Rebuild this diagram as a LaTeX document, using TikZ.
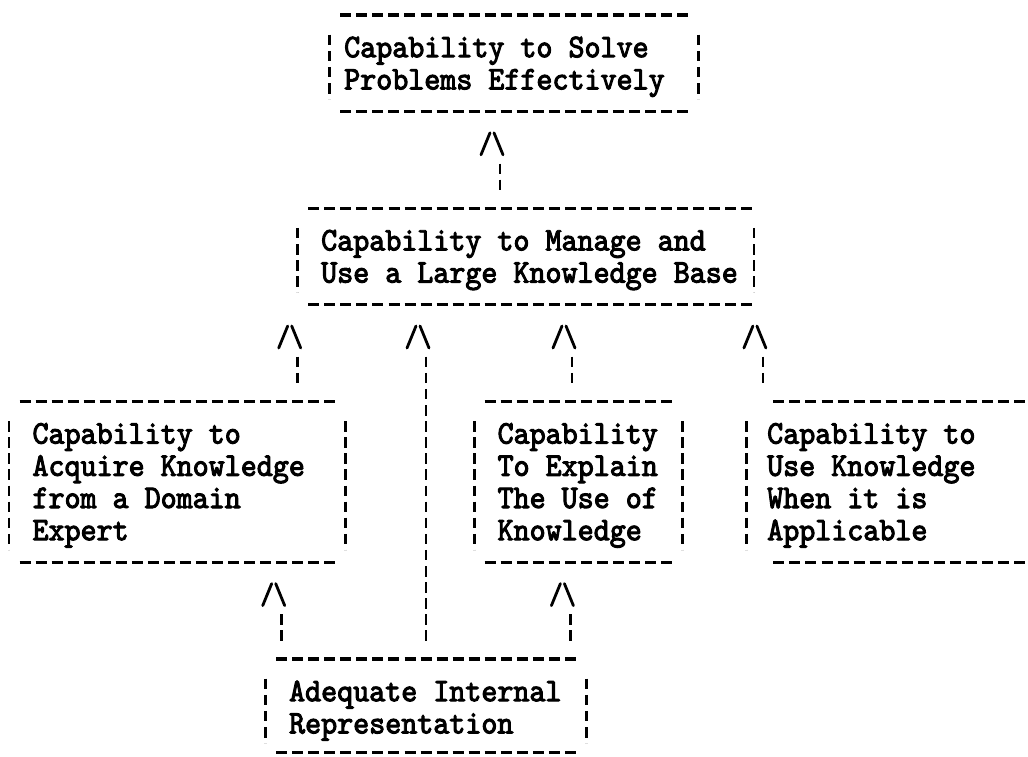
\documentclass[tikz,border=0pt]{standalone}
\usetikzlibrary{fit,calc}

% typewriter face: Latin Modern Mono, slightly narrowed and darkened
\font\typer="[lmmono10-regular.otf]:embolden=3;extend=0.925" at 33pt
% rows 32.2pt apart
\newcommand\typeface{\typer\setbox\strutbox\hbox{\vrule height22.5pt depth9.7pt width0pt}}

% one text block, lines set flush left, baseline on the first line
\newcommand\lines[1]{\begin{tabular}[t]{@{}l@{}}#1\end{tabular}}

\tikzset{
  txt/.style={inner sep=0pt, anchor=base west, font=\typeface},
  frame/.style={inner sep=0pt, outer sep=0pt, draw=none},
  hdash/.style={line width=3.2pt, dash pattern=on 11pt off 5.04pt},
  vbar/.style={line width=2.8pt, dash pattern=on 10.5pt off 5.6pt},
  stem/.style={vbar, shorten <=51.9pt, shorten >=18.1pt},
  caret/.style={line width=2.8pt, line cap=round},
}

% typed box: name, left bar x, right bar x, top rule y, bottom rule y,
% rule start x, rule end x, number of text rows
\newcommand\typedbox[8]{%
  \node[frame, fit={(#2,#4) (#3,#5)}] (#1) {};
  \draw[hdash] (#6,#4) -- (#7,#4);
  \draw[hdash] (#6,#5) -- (#7,#5);
  \draw[vbar] (#2,{#4+19.7}) -- (#2,{#4+19.7+32.2*#8});
  \draw[vbar] (#3,{#4+19.7}) -- (#3,{#4+19.7+32.2*#8});
}

% "/\" head centred on the given point
\newcommand\caretat[1]{\draw[caret] (#1) ++(-11,11) -- ++(9,-22) ++(4,0) -- ++(9,22);}

\begin{document}
\begin{tikzpicture}[x=1pt,y=-1pt]
\path[fill=white] (0,0) rectangle (1028,756);
\useasboundingbox (0,0) rectangle (1028,756);

% boxes
\typedbox{solve}{329.8}{698.7}{15}{111.6}{340.3}{688.2}{2}
\node[txt] (solve-t) at (344,57.2) {\lines{Capability to Solve\\Problems Effectively}};

\typedbox{manage}{297.7}{754}{208.2}{304.8}{308.3}{757}{2}
\node[txt] (manage-t) at (321,250.4) {\lines{Capability to Manage and\\Use a Large Knowledge Base}};

\typedbox{acquire}{9}{345.8}{401.4}{562.4}{19.5}{335.3}{4}
\node[txt] (acquire-t) at (32.3,443.6) {\lines{Capability to\\Acquire Knowledge\\from a Domain\\Expert}};

\typedbox{explain}{474.2}{682.7}{401.4}{562.4}{484.7}{672.2}{4}
\node[txt] (explain-t) at (497.4,443.6) {\lines{Capability\\To Explain\\The Use of\\Knowledge}};

% right-hand box runs off the edge: left bar only
\node[frame, fit={(746.8,401.4) (1028,562.4)}] (use) {};
\draw[hdash] (773.4,401.4) -- (1028,401.4);
\draw[hdash] (773.4,562.4) -- (1028,562.4);
\draw[vbar] (746.8,421.1) -- (746.8,549.9);
\node[txt] (use-t) at (767,443.6) {\lines{Capability to\\Use Knowledge\\When it is\\Applicable}};

\typedbox{inrep}{265.6}{586.4}{659}{752.5}{276.2}{575.9}{2}
\node[txt] (inrep-t) at (288.9,701.2) {\lines{Adequate Internal\\Representation}};

% stem positions
\coordinate (x1) at (500,0);
\coordinate (x2) at (297.7,0);
\coordinate (x3) at (426,0);
\coordinate (x4) at (572,0);
\coordinate (x5) at (762.9,0);
\coordinate (x6) at (281.7,0);
\coordinate (x7) at (570.4,0);

% connectors, drawn from the supported box down to its support
\draw[stem] (solve.south -| x1) -- (manage.north -| x1);
\caretat{$(solve.south -| x1)+(-8,32.2)$}

\draw[stem] (manage.south -| x2) -- (acquire.north -| x2);
\caretat{$(manage.south -| x2)+(-8,32.2)$}

\draw[stem] (manage.south -| x3) -- (inrep.north -| x3);
\caretat{$(manage.south -| x3)+(-8,32.2)$}

\draw[stem] (manage.south -| x4) -- (explain.north -| x4);
\caretat{$(manage.south -| x4)+(-8,32.2)$}

\draw[stem] (manage.south -| x5) -- (use.north -| x5);
\caretat{$(manage.south -| x5)+(-8,32.2)$}

\draw[stem] (acquire.south -| x6) -- (inrep.north -| x6);
\caretat{$(acquire.south -| x6)+(-8,32.2)$}

\draw[stem] (explain.south -| x7) -- (inrep.north -| x7);
\caretat{$(explain.south -| x7)+(-8,32.2)$}
\end{tikzpicture}
\end{document}
